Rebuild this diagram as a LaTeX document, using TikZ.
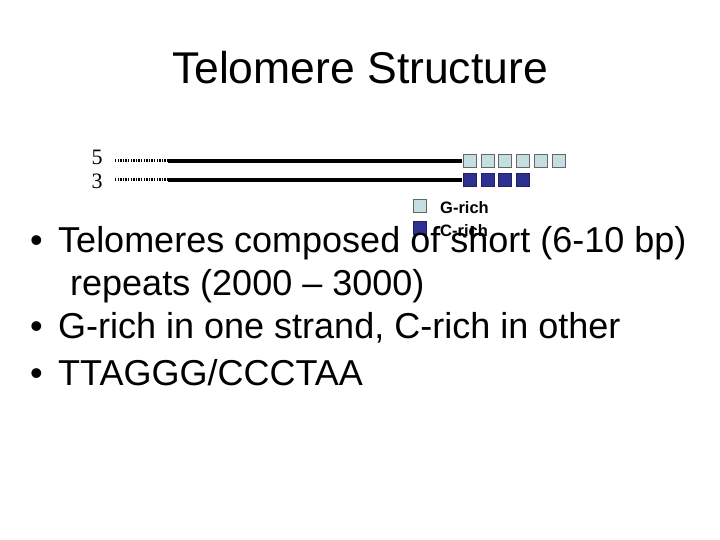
\documentclass[tikz,border=0pt]{standalone}
\usepackage{fontspec}
\setmainfont{Liberation Sans}
\newfontfamily\serifff{Liberation Serif}
\definecolor{gcol}{HTML}{C4DEE2}
\definecolor{ccol}{HTML}{2E3192}
\begin{document}
\begin{tikzpicture}[x=1pt,y=-1pt,
  gbox/.style={draw=gray!80!black,fill=gcol,minimum size=13pt,inner sep=0pt,line width=0.5pt},
  cbox/.style={draw=ccol!70!black,fill=ccol,minimum size=13pt,inner sep=0pt,line width=0.5pt},
  strand/.style={line width=3.6pt},
  dots/.style={line width=3pt,dash pattern=on 1.3pt off 1.3pt},
  btxt/.style={anchor=base west,font=\fontsize{36}{40}\selectfont,inner sep=0pt}]
\useasboundingbox (0,0) rectangle (720,540);
\node[font=\fontsize{44.5}{50}\selectfont] (title) at (360,68) {Telomere Structure};
\node[font=\serifff\fontsize{22}{24}\selectfont] (l5) at (97,157) {5};
\node[font=\serifff\fontsize{22}{24}\selectfont] (l3) at (97,181) {3};
\coordinate (a1) at (115,161); \coordinate (a2) at (168,161); \coordinate (a3) at (462,161);
\coordinate (b1) at (115,180); \coordinate (b2) at (168,180); \coordinate (b3) at (462,180);
\draw[dots] (a1) -- (a2); \draw[strand] (a2) -- (a3);
\draw[dots] (b1) -- (b2); \draw[strand] (b2) -- (b3);
\foreach \i in {0,...,5} \node[gbox] (g\i) at (469.5+17.8*\i,161) {};
\foreach \i in {0,...,3} \node[cbox] (c\i) at (469.5+17.8*\i,180) {};
\node[gbox] (lg) at (420,206) {};
\node[cbox] (lc) at (420,228) {};
\node[anchor=west,font=\bfseries\fontsize{16.5}{18}\selectfont,inner sep=0pt] (tg) at (440,208) {G-rich};
\node[anchor=west,font=\bfseries\fontsize{16.5}{18}\selectfont,inner sep=0pt] (tc) at (440,231) {C-rich};
\node[btxt] (d1) at (30,252) {•}; \node[btxt] (t1) at (58,252) {Telomeres composed of short (6-10 bp)};
\node[btxt] (t1b) at (70,295) {repeats (2000 – 3000)};
\node[btxt] (d2) at (30,338) {•}; \node[btxt] (t2) at (58,338) {G-rich in one strand, C-rich in other};
\node[btxt] (d3) at (30,385) {•}; \node[btxt] (t3) at (58,385) {TTAGGG/CCCTAA};
\end{tikzpicture}
\end{document}
